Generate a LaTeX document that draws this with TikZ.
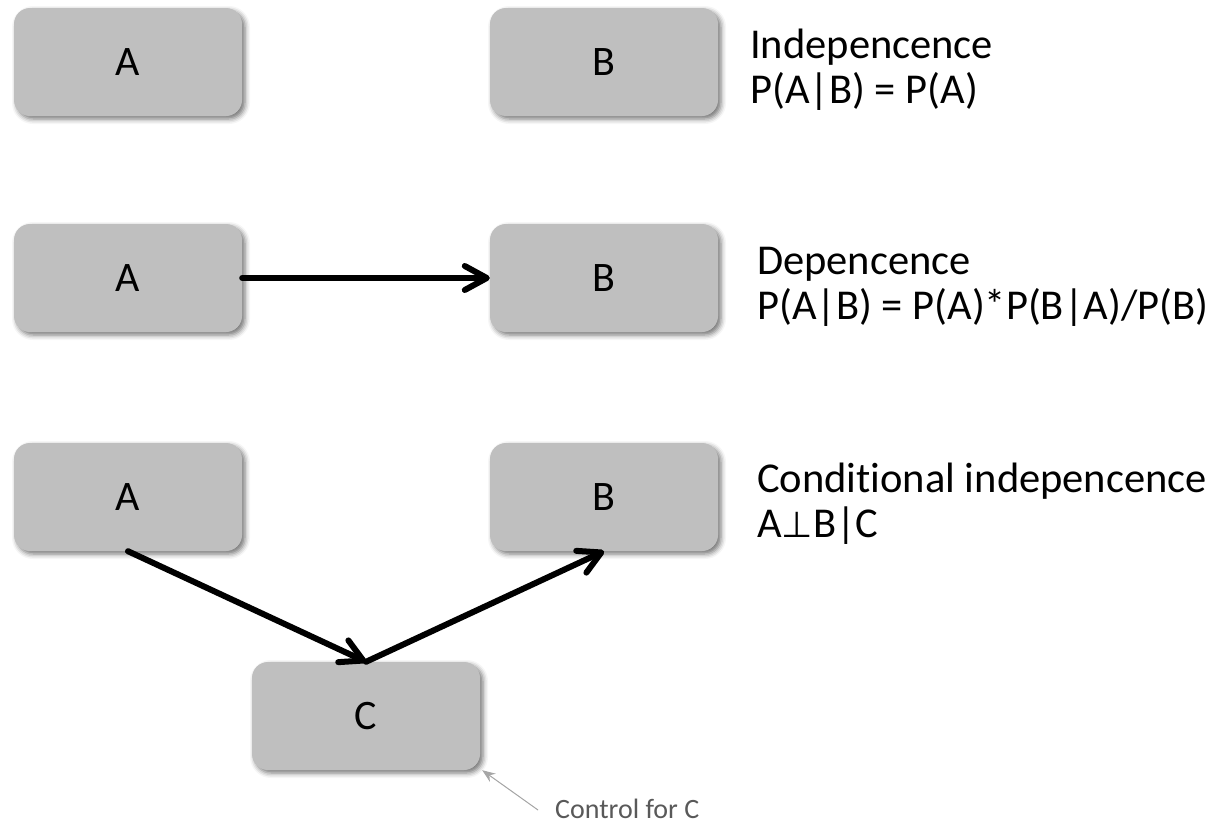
\documentclass[tikz,border=0pt]{standalone}
\usepackage{fontspec}
\setmainfont[Ligatures=NoCommon]{Carlito}
\newfontfamily\symfont{DejaVu Sans}
\usetikzlibrary{arrows.meta,shadows.blur}
\definecolor{boxgray}{HTML}{BFBFBF}
\definecolor{notegray}{HTML}{A6A6A6}
\definecolor{notetext}{HTML}{595959}
\tikzset{
  box/.style={rectangle, rounded corners=16pt, fill=boxgray, draw=none,
    minimum width=228pt, minimum height=108pt, inner sep=0pt,
    font=\fontsize{42}{44}\selectfont,
    blur shadow={shadow xshift=3pt, shadow yshift=-3pt, shadow blur radius=5pt, shadow opacity=55}},
  label/.style={anchor=base west, inner sep=0pt, font=\fontsize{42.5}{45}\selectfont},
  conn/.style={line width=6pt, line cap=round, -{Straight Barb[length=22pt,width=24pt,round]}},
  note/.style={draw=notegray, line width=1pt, -{Stealth[length=13pt,width=10pt]}, fill=notegray},
  notelabel/.style={anchor=base west, inner sep=0pt, text=notetext, font=\fontsize{28}{30}\selectfont}
}
\begin{document}
\begin{tikzpicture}[x=1pt,y=-1pt]
\useasboundingbox (0,0) rectangle (1216,838);
% row 1
\node[box] (A1) at (128,62) {A};
\node[box] (B1) at (604,62) {B};
\node[label] (t1a) at (750,58) {Indepencence};
\node[label] (t1b) at (750,103) {P(A|B) = P(A)};
% row 2
\node[box] (A2) at (128,278) {A};
\node[box] (B2) at (604,278) {B};
\draw[conn] (A2.east) -- (B2.west);
\node[label] (t2a) at (757,274) {Depencence};
\node[label] (t2b) at (757,319) {P(A|B) = P(A)*P(B|A)/P(B)};
% row 3
\node[box] (A3) at (128,497) {A};
\node[box] (B3) at (604,497) {B};
\node[box] (C) at (366,716) {C};
\draw[conn] (A3.south) -- (C.north);
\draw[conn] (C.north) -- (B3.south);
\node[label] (t3a) at (757,492) {Conditional indepencence};
\node[label] (t3b) at (757,537) {A{\symfont\fontsize{36}{40}\selectfont ⊥}B|C};
% annotation
\coordinate (ctl) at (538,810);
\draw[note] (ctl) -- ([xshift=2pt]C.south east);
\node[notelabel] (t4) at (555,818) {Control for C};
\end{tikzpicture}
\end{document}
